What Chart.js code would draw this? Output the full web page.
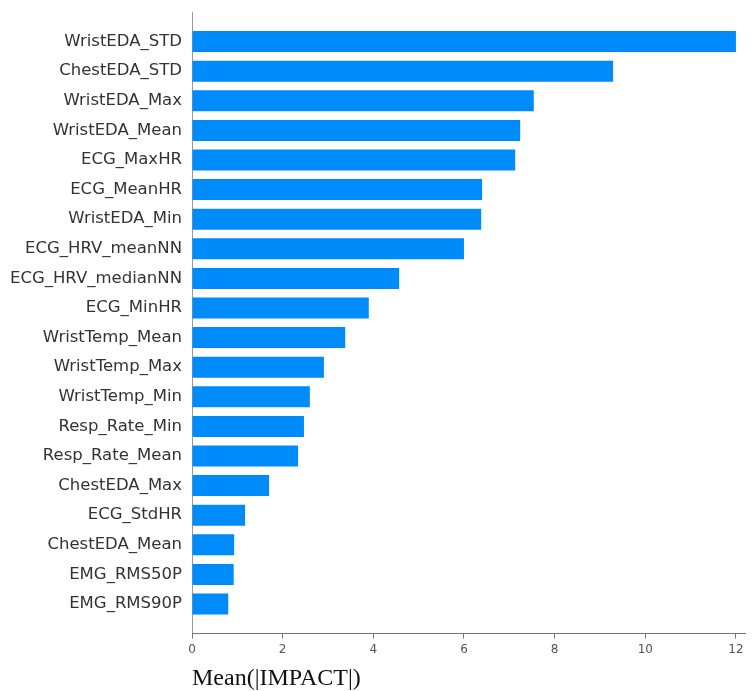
<!DOCTYPE html>
<html>
<head>
<meta charset="utf-8">
<script src="https://cdn.jsdelivr.net/npm/chart.js@4"></script>
<style>
  html, body { margin: 0; padding: 0; background: #fff; }
  #wrap { width: 754px; height: 691px; }
</style>
</head>
<body>
<div id="wrap"><canvas id="impact-chart"></canvas></div>
<script>
// features, top to bottom
const features = ["WristEDA_STD", "ChestEDA_STD", "WristEDA_Max", "WristEDA_Mean", "ECG_MaxHR",
  "ECG_MeanHR", "WristEDA_Min", "ECG_HRV_meanNN", "ECG_HRV_medianNN", "ECG_MinHR",
  "WristTemp_Mean", "WristTemp_Max", "WristTemp_Min", "Resp_Rate_Min", "Resp_Rate_Mean",
  "ChestEDA_Max", "ECG_StdHR", "ChestEDA_Mean", "EMG_RMS50P", "EMG_RMS90P"];
const meanImpact = [12.0, 9.29, 7.54, 7.24, 7.13, 6.40, 6.38, 6.00, 4.57, 3.90,
  3.38, 2.91, 2.60, 2.47, 2.34, 1.70, 1.17, 0.93, 0.92, 0.80];
const xTicks = [0, 2, 4, 6, 8, 10, 12];

const points = meanImpact.map((v, i) => ({ x: v, y: i }));

const config = {
  type: 'bar',
  data: {
    datasets: [{
      label: 'Mean(|IMPACT|)',
      data: points,
      backgroundColor: '#008bfb',
      borderWidth: 0,
      categoryPercentage: 1,
      barPercentage: 0.71
    }]
  },
  options: {
    indexAxis: 'y',
    responsive: true,
    maintainAspectRatio: false,
    animation: false,
    layout: { padding: { left: 0, right: 9, top: 0, bottom: 0 } },
    plugins: { legend: { display: false }, tooltip: { enabled: false } },
    scales: {
      y: {
        type: 'linear',
        reverse: true,
        offset: false,
        min: -1,
        max: 20,
        grid: { display: false, tickLength: 0 },
        border: { color: '#999', width: 1 },
        afterBuildTicks: (scale) => { scale.ticks = features.map((f, i) => ({ value: i })); },
        afterFit: (scale) => {
          scale.width = 192;
          scale.paddingTop = 12;
          scale.paddingBottom = 0;
        },
        ticks: {
          padding: 10,
          color: '#333',
          font: { family: 'DejaVu Sans', size: 16.5 },
          callback: (v) => features[v]
        }
      },
      x: {
        type: 'linear',
        min: 0,
        max: 12.2,
        grid: { drawOnChartArea: false, color: '#777', tickLength: 5 },
        border: { color: '#777', width: 1 },
        afterBuildTicks: (scale) => { scale.ticks = xTicks.map(v => ({ value: v })); },
        ticks: {
          padding: 4,
          color: '#555',
          font: { family: 'DejaVu Sans', size: 12 }
        },
        title: {
          display: true,
          text: 'Mean(|IMPACT|)',
          align: 'start',
          color: '#111',
          padding: { top: 6, bottom: 0 },
          font: { family: 'Liberation Serif', size: 24, lineHeight: 1.0 }
        }
      }
    }
  }
};

new Chart(document.getElementById('impact-chart'), config);
</script>
</body>
</html>
